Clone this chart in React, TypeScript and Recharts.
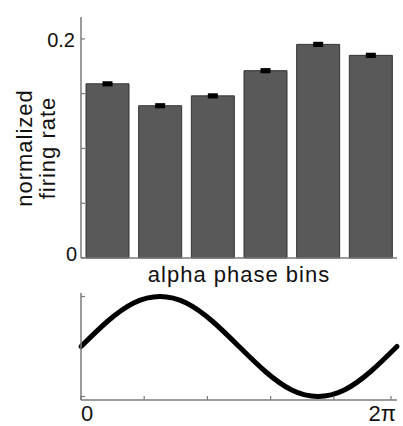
import { Bar, BarChart, ErrorBar, Label, Line, LineChart, XAxis, YAxis } from 'recharts'

// mean normalized firing rate per alpha phase bin, with its s.e.m.
const phaseBins = ['bin1', 'bin2', 'bin3', 'bin4', 'bin5', 'bin6']
const firingRate = [0.159, 0.139, 0.148, 0.171, 0.195, 0.185]
const firingSem = [0.001, 0.001, 0.001, 0.001, 0.001, 0.001]
const rateTicks = [0, 0.05, 0.1, 0.15, 0.2]

// one alpha cycle, sampled every 30 degrees
const phaseDeg = [0, 30, 60, 90, 120, 150, 180, 210, 240, 270, 300, 330, 360]
const alphaWave = [0, 0.5, 0.87, 1, 0.87, 0.5, 0, -0.5, -0.87, -1, -0.87, -0.5, 0]
const phaseTicks = [0, 72, 144, 216, 288, 360]
const waveTicks = [-1, 1]

const barData = phaseBins.map((bin, i) => ({ bin, rate: firingRate[i], sem: firingSem[i] }))
const waveData = phaseDeg.map((deg, i) => ({ deg, amp: alphaWave[i] }))

const FONT = '"Liberation Sans", Arial, sans-serif'
const AXIS = '#7a7a7a'
const INK = '#111'

const RateTick = (props: any) => {
    const { x, y, payload } = props
    const v = payload.value
    let label = null
    if (v === 0) label = <text x={x - 4} y={y + 3} textAnchor="end" fontSize={20} fill={INK} fontFamily={FONT}>0</text>
    if (v === 0.2) label = <text x={x - 6} y={y + 8} textAnchor="end" fontSize={20} fill={INK} fontFamily={FONT}>0.2</text>
    return (
        <g>
            <line x1={x} x2={x + 4} y1={y} y2={y} stroke={AXIS} strokeWidth={1.2} />
            {label}
        </g>
    )
}

const WaveYTick = (props: any) => {
    const { x, y } = props
    return <line x1={x} x2={x + 4} y1={y} y2={y} stroke={AXIS} strokeWidth={1.2} />
}

const PhaseTick = (props: any) => {
    const { x, y, payload } = props
    const v = payload.value
    let label = null
    if (v === 0) label = <text x={x} y={y + 21} textAnchor="start" fontSize={22} fill={INK} fontFamily={FONT}>0</text>
    if (v === 360) label = <text x={x + 5} y={y + 21} textAnchor="end" fontSize={22} fill={INK} fontFamily={FONT}>2π</text>
    return (
        <g>
            <line x1={x} x2={x} y1={y} y2={y - 4} stroke={AXIS} strokeWidth={1.2} />
            {label}
        </g>
    )
}

const RateLabel = () => (
    <g fontFamily={FONT} fontSize={22} fill={INK} letterSpacing={1}>
        <text x={32} y={148} textAnchor="middle" transform="rotate(-90, 32, 148)">normalized</text>
        <text x={55} y={148} textAnchor="middle" transform="rotate(-90, 55, 148)">firing rate</text>
    </g>
)

const App = () => {
    return (
        <div style={{ position: 'absolute', left: 0, top: 0, width: 403, height: 426, background: '#fff', fontFamily: FONT }}>
            <div style={{ position: 'absolute', left: 0, top: 0 }}>
                <BarChart
                    width={403}
                    height={290}
                    data={barData}
                    margin={{ top: 17, right: 6, bottom: 0, left: 21 }}
                    barCategoryGap="9.5%"
                >
                    <XAxis
                        dataKey="bin"
                        height={32}
                        tick={false}
                        tickLine={false}
                        axisLine={{ stroke: AXIS, strokeWidth: 1.5 }}
                    >
                        <Label
                            value="alpha phase bins"
                            position="insideBottom"
                            offset={8}
                            fontSize={22}
                            fill={INK}
                            fontFamily={FONT}
                            style={{ letterSpacing: 1 }}
                        />
                    </XAxis>
                    <YAxis
                        width={60}
                        domain={[0, 0.22]}
                        ticks={rateTicks}
                        tickSize={0}
                        tickMargin={0}
                        tickLine={false}
                        tick={<RateTick />}
                        axisLine={{ stroke: AXIS, strokeWidth: 1.5 }}
                        label={<RateLabel />}
                    />
                    <Bar dataKey="rate" fill="#595959" stroke="#333" strokeWidth={1} isAnimationActive={false}>
                        {/* s.e.m. is tiny, so the error bar reads as a dot on each bar */}
                        <ErrorBar dataKey="sem" width={5} strokeWidth={3} stroke="#000" isAnimationActive={false} />
                    </Bar>
                </BarChart>
            </div>
            <div style={{ position: 'absolute', left: 0, top: 285 }}>
                <LineChart
                    width={403}
                    height={141}
                    data={waveData}
                    margin={{ top: 8, right: 6, bottom: 0, left: 21 }}
                >
                    <XAxis
                        dataKey="deg"
                        type="number"
                        domain={[0, 360]}
                        ticks={phaseTicks}
                        height={26}
                        tickSize={0}
                        tickMargin={0}
                        tickLine={false}
                        tick={<PhaseTick />}
                        axisLine={{ stroke: AXIS, strokeWidth: 1.5 }}
                    />
                    <YAxis
                        width={60}
                        domain={[-1.07, 1.07]}
                        ticks={waveTicks}
                        tickSize={0}
                        tickMargin={0}
                        tickLine={false}
                        tick={<WaveYTick />}
                        axisLine={{ stroke: AXIS, strokeWidth: 1.5 }}
                    />
                    <Line
                        type="natural"
                        dataKey="amp"
                        stroke="#000"
                        strokeWidth={5}
                        dot={false}
                        strokeLinecap="round"
                        isAnimationActive={false}
                    />
                </LineChart>
            </div>
        </div>
    )
}

export default App
